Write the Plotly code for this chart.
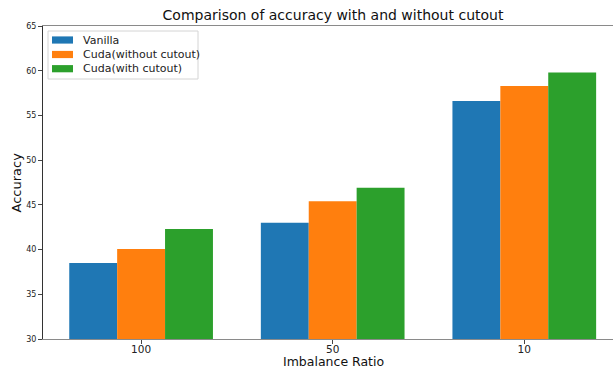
import plotly.graph_objects as go

# Imbalance ratios on the x axis
ratios = ["100", "50", "10"]

# Accuracy per method
vanilla = [38.5, 43.0, 56.6]
cuda_without_cutout = [40.05, 45.4, 58.3]
cuda_with_cutout = [42.3, 46.9, 59.8]

series_names = ["Vanilla", "Cuda(without cutout)", "Cuda(with cutout)"]
series_values = [vanilla, cuda_without_cutout, cuda_with_cutout]
colors = ["#1f77b4", "#ff7f0e", "#2ca02c"]

y_ticks = [30, 35, 40, 45, 50, 55, 60, 65]

W, H = 613, 368
L, R, T, B = 43, 0, 26, 29
PW, PH = W - L - R, H - T - B
font = "DejaVu Sans"


# page-pixel -> "paper" (plot-area) fractions
def px_x(px):
    return (px - L) / PW


def px_y(py):
    return (H - B - py) / PH


fig = go.Figure()
for name, vals, col in zip(series_names, series_values, colors):
    fig.add_trace(go.Bar(
        x=ratios, y=vals, name=name,
        marker=dict(color=col, line=dict(width=0)),
        showlegend=False,
    ))

# Legend box drawn in page pixels (matplotlib-style compact legend)
shapes = [dict(
    type="rect", xref="paper", yref="paper",
    x0=px_x(48), x1=px_x(198), y0=px_y(79), y1=px_y(31),
    line=dict(color="#d4d4d4", width=1),
    fillcolor="rgba(255,255,255,0.85)", layer="above",
)]
annotations = []
entry_y = [40, 54.5, 68.7]
for name, col, ey in zip(series_names, colors, entry_y):
    shapes.append(dict(
        type="rect", xref="paper", yref="paper",
        x0=px_x(52), x1=px_x(73), y0=px_y(ey + 3.6), y1=px_y(ey - 3.6),
        line=dict(width=0), fillcolor=col, layer="above",
    ))
    annotations.append(dict(
        text=name, xref="paper", yref="paper",
        x=px_x(80.5), y=px_y(ey), xanchor="left", yanchor="middle",
        showarrow=False, font=dict(size=11, family=font, color="#222222"),
    ))

# Axis titles
annotations.append(dict(
    text="Imbalance Ratio", xref="paper", yref="paper",
    x=px_x(333), y=px_y(361.6), xanchor="center", yanchor="middle",
    borderpad=0,
    showarrow=False, font=dict(size=12.5, family=font, color="#111111"),
))
annotations.append(dict(
    text="Accuracy", xref="paper", yref="paper", textangle=-90,
    x=px_x(16), y=px_y(182.5), xanchor="center", yanchor="middle",
    borderpad=0,
    showarrow=False, font=dict(size=13, family=font, color="#111111"),
))

fig.update_layout(
    width=W, height=H,
    margin=dict(l=L, r=R, t=T, b=B, pad=0),
    paper_bgcolor="white", plot_bgcolor="white",
    barmode="group", bargap=0.25, bargroupgap=0,
    font=dict(family=font, color="#222222"),
    title=dict(
        text="Comparison of accuracy with and without cutout",
        xref="container", yref="container",
        x=333 / W, xanchor="center",
        y=1 - 15 / H, yanchor="middle",
        font=dict(size=14, family=font, color="#111111"),
    ),
    showlegend=False,
    shapes=shapes,
    annotations=annotations,
)

fig.update_xaxes(
    type="category", automargin=False,
    range=[-0.512, 2.463],
    showline=True, linecolor="#8a8a8a", linewidth=1, mirror=True,
    ticks="outside", ticklen=4, tickcolor="#444444", tickwidth=1,
    ticklabelstandoff=-4,
    tickfont=dict(size=10.5, family=font, color="#222222"),
    showgrid=False, zeroline=False,
)
fig.update_yaxes(
    range=[30, 65], automargin=False,
    tickvals=y_ticks,
    showline=True, linecolor="#333333", linewidth=1, mirror=False,
    ticks="outside", ticklen=4, tickcolor="#444444", tickwidth=1,
    tickfont=dict(size=8, family=font, color="#222222"),
    showgrid=False, zeroline=False,
)

fig.write_html("out.html")
